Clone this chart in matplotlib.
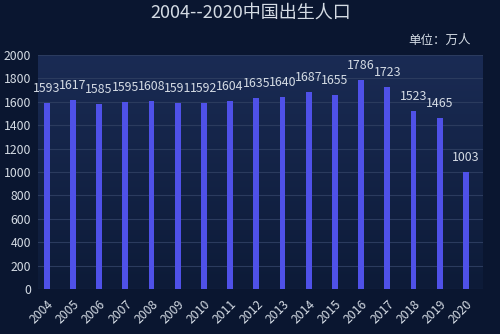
import numpy as np
import matplotlib
matplotlib.use('Agg')
import matplotlib.pyplot as plt
from matplotlib.colors import LinearSegmentedColormap

plt.rcParams['font.family'] = ['Noto Sans CJK SC', 'DejaVu Sans']

# births per year, unit: 10k people
years = ['2004', '2005', '2006', '2007', '2008', '2009', '2010', '2011', '2012',
         '2013', '2014', '2015', '2016', '2017', '2018', '2019', '2020']
births = [1593, 1617, 1585, 1595, 1608, 1591, 1592, 1604, 1635,
          1640, 1687, 1655, 1786, 1723, 1523, 1465, 1003]
yticks = [0, 200, 400, 600, 800, 1000, 1200, 1400, 1600, 1800, 2000]

bg = '#0a1630'
txt = '#d4dbe4'

fig = plt.figure(figsize=(5, 3.34), dpi=100)
fig.patch.set_facecolor(bg)
ax = fig.add_axes([0.076, 0.135, 0.89, 0.7])
ax.set_facecolor(bg)

# soft vertical gradient behind the bars
cmap = LinearSegmentedColormap.from_list('bgfade', ['#0d1b38', '#1a2b54'])
grad = np.linspace(0, 1, 256).reshape(-1, 1)
ax.imshow(grad, cmap=cmap, aspect='auto', extent=[0, 1, 0, 1],
          transform=ax.transAxes, origin='lower', zorder=0)

x = np.arange(len(years))
ax.bar(x, births, width=0.22, color='#4f51e8', zorder=3)
for xi, v in zip(x, births):
    ax.annotate(str(v), (xi, v), xytext=(0, 10.5), textcoords='offset points',
                ha='center', va='center', color=txt, fontsize=8.9, zorder=4)

ax.set_xlim(-0.33, 16.65)
ax.set_ylim(0, 2000)
ax.set_yticks(yticks)
ax.set_yticklabels([str(t) for t in yticks])
ax.set_xticks(x)
ax.set_xticklabels(years, rotation=45, ha='right', rotation_mode='anchor')
ax.tick_params(axis='both', length=0, colors=txt, labelsize=8.8)
ax.tick_params(axis='x', pad=6)
ax.tick_params(axis='y', pad=5)
ax.grid(axis='y', color='#2b3b5e', lw=0.8, zorder=1)
for s in ax.spines.values():
    s.set_visible(False)

fig.text(0.502, 0.962, '2004--2020中国出生人口', ha='center', va='center',
         color=txt, fontsize=13)
fig.text(0.88, 0.88, '单位：万人', ha='center', va='center',
         color=txt, fontsize=9)

fig.savefig('out.png', dpi=100, facecolor=bg)
